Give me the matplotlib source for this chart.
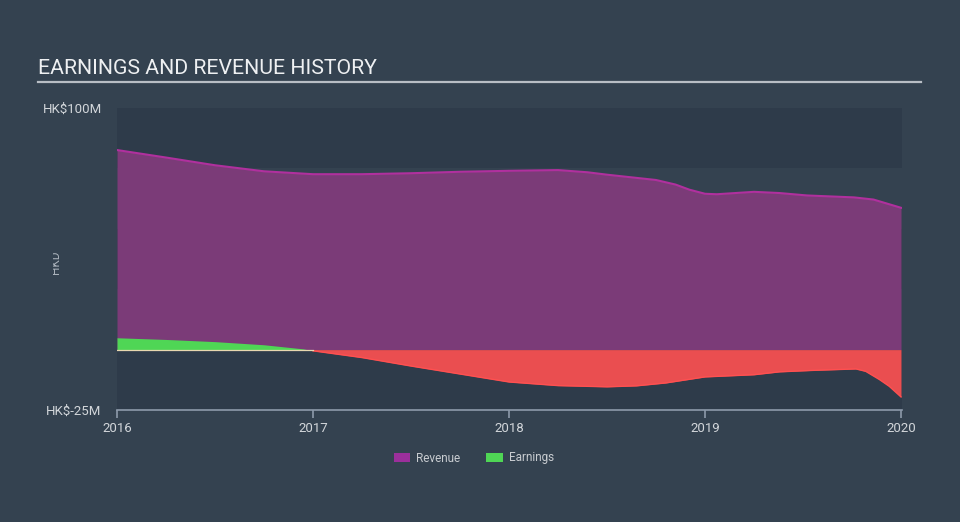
import matplotlib
matplotlib.use("Agg")
import matplotlib.pyplot as plt
from matplotlib.patches import Patch
from matplotlib.transforms import Bbox
import numpy as np

plt.rcParams['font.family'] = ['Roboto', 'DejaVu Sans']

# Data (HK$ millions)
rev_years = [2016.0, 2016.25, 2016.5, 2016.75, 2017.0, 2017.25, 2017.5, 2017.75,
             2018.0, 2018.25, 2018.4, 2018.5, 2018.75, 2018.85, 2018.92, 2019.0,
             2019.06, 2019.25, 2019.38, 2019.52, 2019.76, 2019.86, 2020.0]
revenue = [82.6, 79.5, 76.3, 73.8, 72.6, 72.6, 73.0, 73.6,
           74.0, 74.3, 73.4, 72.4, 70.2, 68.3, 66.2, 64.5,
           64.3, 65.3, 64.8, 63.8, 63.0, 62.1, 58.7]

earn_years = [2016.0, 2016.25, 2016.5, 2016.75, 2016.95, 2017.0, 2017.25, 2017.5,
              2017.75, 2018.0, 2018.25, 2018.5, 2018.65, 2018.8, 2019.0, 2019.25,
              2019.38, 2019.55, 2019.77, 2019.82, 2019.89, 2019.94, 2020.0]
earnings = [4.9, 4.2, 3.3, 2.0, 0.3, -0.5, -3.3, -6.8,
            -10.1, -13.4, -14.9, -15.4, -15.0, -13.8, -11.3, -10.4,
            -9.2, -8.6, -8.0, -9.0, -12.4, -15.2, -19.6]

x_ticks = [2016, 2017, 2018, 2019, 2020]
y_ticks = [-25, 100]
y_tick_labels = ['HK$-25M', 'HK$100M']

BG = '#344250'
BAND = '#2e3b4a'
TXT = '#d2d6da'

fig = plt.figure(figsize=(9.6, 5.22), dpi=100, facecolor=BG)
ax = fig.add_axes([117/960, 1-410/522, 785/960, 302/522])
ax.set_facecolor(BG)

ax.set_xlim(2016, 2020.005)
ax.set_ylim(-25, 100)

# background bands
for lo, hi in [(-25, 0), (25, 50), (75, 100)]:
    ax.axhspan(lo, hi, color=BAND, lw=0, zorder=0)

ry = np.array(rev_years); rv = np.array(revenue)
ey = np.array(earn_years); ev = np.array(earnings)

ax.fill_between(ry, 0, rv, color='#7b3b78', lw=0, zorder=2)
ax.plot(ry, rv, color='#b0309e', lw=1.5, zorder=3)

ax.fill_between(ey, 0, ev, where=ev >= 0, interpolate=True, color='#4fd655', lw=0, zorder=4)
ax.fill_between(ey, 0, ev, where=ev <= 0, interpolate=True, color='#ea4e50', lw=0, zorder=4)
neg = np.where(ev <= 0, ev, np.nan)
ax.plot(ey, neg, color='#ff5050', lw=1.0, zorder=5)
pos_mask = ey <= 2017.0
ax.plot(ey[pos_mask], np.zeros(pos_mask.sum()), color='#e8d8b0', lw=0.9, zorder=5)

for s in ['top', 'right', 'left']:
    ax.spines[s].set_visible(False)
ax.spines['bottom'].set_color('#8d9aab')
ax.spines['bottom'].set_linewidth(1.2)

ax.set_xticks(x_ticks)
ax.set_xticklabels([str(t) for t in x_ticks])
ax.tick_params(axis='x', colors='#8d9aab', length=6, width=1.2, pad=3, labelsize=9.5, labelcolor=TXT)
ax.set_yticks(y_ticks)
ax.set_yticklabels(y_tick_labels)
ax.tick_params(axis='y', length=0, pad=11, labelsize=9.5, labelcolor=TXT)

hkd = fig.text(55/960, 1-262/522, 'HKD', rotation=90, color='#aab2bb', fontsize=8.5,
               ha='center', va='center')
hkd.set_clip_box(Bbox.from_extents(53, 0, 960, 522))
hkd.set_clip_on(True)

# Title and underline
fig.text(38/960, 1-68/522, 'EARNINGS AND REVENUE HISTORY', color='#eef0f2', fontsize=15.3,
         ha='left', va='center')
fig.add_artist(plt.Line2D([38/960, 921/960], [1-82/522, 1-82/522], color='#b8bec5', lw=1.6))

handles = [Patch(facecolor='#9b2f9b', edgecolor='none', label='Revenue'),
           Patch(facecolor='#4fd655', edgecolor='none', label='Earnings')]
fig.legend(handles=handles, loc='center', bbox_to_anchor=(474/960, 1-458/522), ncol=2,
           frameon=False, fontsize=8.5, labelcolor='#c8ccd0', handlelength=1.4, handleheight=0.9,
           columnspacing=2.2, handletextpad=0.5)

fig.savefig('out.png', dpi=100, facecolor=BG)
